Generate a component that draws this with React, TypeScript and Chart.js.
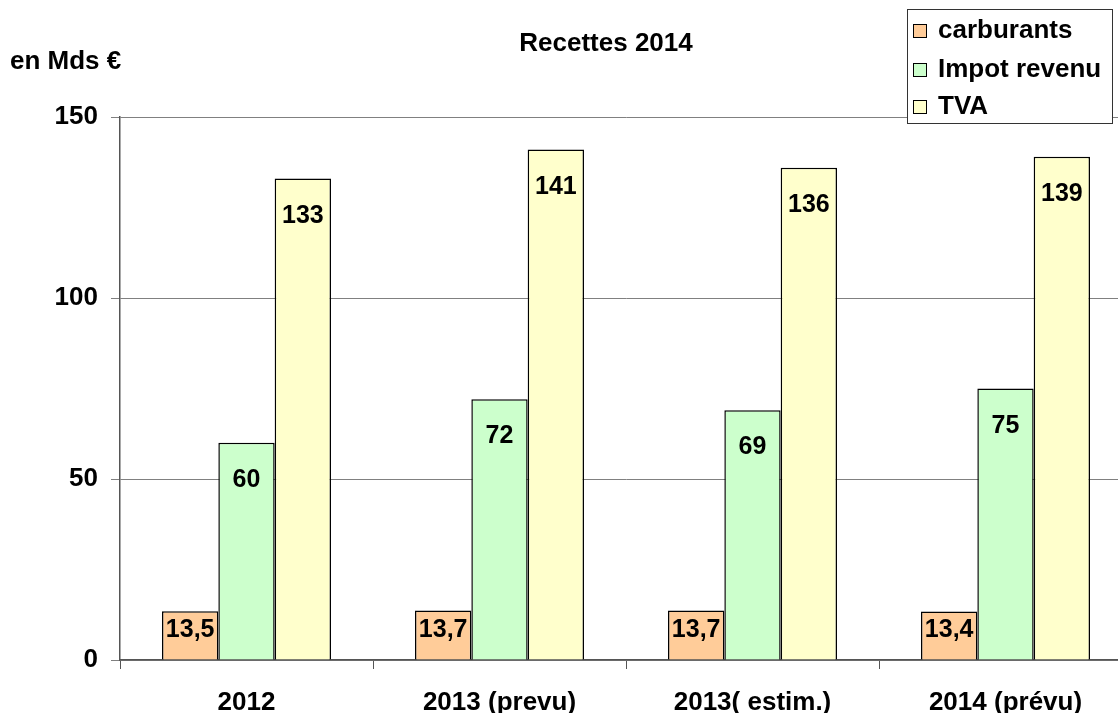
import React, { useEffect, useRef } from "react";
import { Chart, registerables } from "chart.js";

Chart.register(...registerables);

const categories = ["2012", "2013 (prevu)", "2013( estim.)", "2014 (prévu)"];
const carburants = [13.5, 13.7, 13.7, 13.4];
const impotRevenu = [60, 72, 69, 75];
const tva = [133, 141, 136, 139];
const yTicks = [0, 50, 100, 150];
const seriesNames = ["carburants", "Impot revenu", "TVA"];
const chartTitle = "Recettes 2014";
const unitLabel = "en Mds €";

const FONT = '"Liberation Sans", Arial, Helvetica, sans-serif';

const overlayPlugin = {
  id: "overlay",
  afterDatasetsDraw(chart: any) {
    const ctx = chart.ctx;
    ctx.save();
    ctx.font = `bold 25px ${FONT}`;
    ctx.fillStyle = "#000";
    ctx.textAlign = "center";
    ctx.textBaseline = "alphabetic";
    chart.data.datasets.forEach((ds: any, di: number) => {
      const meta = chart.getDatasetMeta(di);
      meta.data.forEach((bar: any, i: number) => {
        const v = ds.data[i];
        const text = String(v).replace(".", ",");
        const p = bar.getProps(["x", "y", "base"], true);
        const ty = di === 0 ? (p.y + p.base) / 2 + 2 : p.y + 44;
        ctx.fillText(text, p.x, ty);
      });
    });
    ctx.restore();
  },
  afterDraw(chart: any) {
    const ctx = chart.ctx;
    ctx.save();
    ctx.fillStyle = "#000";
    ctx.textBaseline = "alphabetic";
    // title
    ctx.font = `bold 26px ${FONT}`;
    ctx.textAlign = "center";
    ctx.fillText(chartTitle, 606, 51);
    // unit label
    ctx.textAlign = "left";
    ctx.fillText(unitLabel, 10, 69);
    // legend
    ctx.fillStyle = "#fff";
    ctx.fillRect(907, 9, 205, 114);
    ctx.strokeStyle = "#333";
    ctx.lineWidth = 1;
    ctx.strokeRect(907.5, 9.5, 205, 114);
    const baselines = [38, 77, 114];
    chart.data.datasets.forEach((ds: any, di: number) => {
      const b = baselines[di];
      ctx.fillStyle = ds.backgroundColor;
      ctx.fillRect(913, b - 14, 13, 13);
      ctx.strokeStyle = "#000";
      ctx.strokeRect(913.5, b - 13.5, 13, 13);
      ctx.fillStyle = "#000";
      ctx.font = `bold 26px ${FONT}`;
      ctx.textAlign = "left";
      ctx.fillText(ds.label, 938, b);
    });
    ctx.restore();
  },
};

export default function App() {
  const canvasRef = useRef<HTMLCanvasElement | null>(null);

  useEffect(() => {
    const canvas = canvasRef.current;
    if (!canvas) return;
    const chart = new Chart(canvas, {
      type: "bar",
      data: {
        labels: categories,
        datasets: [
          {
            label: seriesNames[0],
            data: carburants,
            backgroundColor: "#FFCC99",
            borderColor: "#000",
            borderWidth: 1.5,
          },
          {
            label: seriesNames[1],
            data: impotRevenu,
            backgroundColor: "#CCFFCC",
            borderColor: "#000",
            borderWidth: 1.5,
          },
          {
            label: seriesNames[2],
            data: tva,
            backgroundColor: "#FFFFCC",
            borderColor: "#000",
            borderWidth: 1.5,
          },
        ],
      },
      options: {
        responsive: false,
        animation: false,
        devicePixelRatio: 1,
        layout: { padding: { top: 117, right: 18, bottom: 0, left: 0 } },
        datasets: {
          bar: { categoryPercentage: 0.668, barPercentage: 1 },
        },
        plugins: {
          legend: { display: false },
          title: { display: false },
          tooltip: { enabled: false },
        },
        scales: {
          x: {
            offset: true,
            grid: {
              display: true,
              drawOnChartArea: false,
              drawTicks: true,
              tickLength: 9,
              color: "#555",
              offset: true,
            },
            border: { display: true, color: "#555", width: 1.5 },
            ticks: {
              color: "#000",
              font: { family: FONT, size: 26, weight: "bold" },
              padding: 18,
              maxRotation: 0,
              autoSkip: false,
            },
            afterFit(scale: any) {
              scale.height = 53;
            },
          },
          y: {
            min: yTicks[0],
            max: yTicks[yTicks.length - 1],
            ticks: {
              stepSize: yTicks[1] - yTicks[0],
              color: "#000",
              font: { family: FONT, size: 26, weight: "bold" },
              padding: 13,
            },
            grid: {
              color: "#808080",
              lineWidth: 1,
              tickLength: 9,
              drawTicks: true,
            },
            border: { display: true, color: "#555", width: 1.5 },
            afterFit(scale: any) {
              scale.width = 120;
            },
          },
        },
      },
      plugins: [overlayPlugin],
    } as any);
    return () => chart.destroy();
  }, []);

  return (
    <div
      style={{
        position: "fixed",
        left: 0,
        top: 0,
        width: 1118,
        height: 713,
        overflow: "hidden",
        background: "#fff",
      }}
    >
      <canvas ref={canvasRef} width={1150} height={713} style={{ display: "block" }} />
    </div>
  );
}
